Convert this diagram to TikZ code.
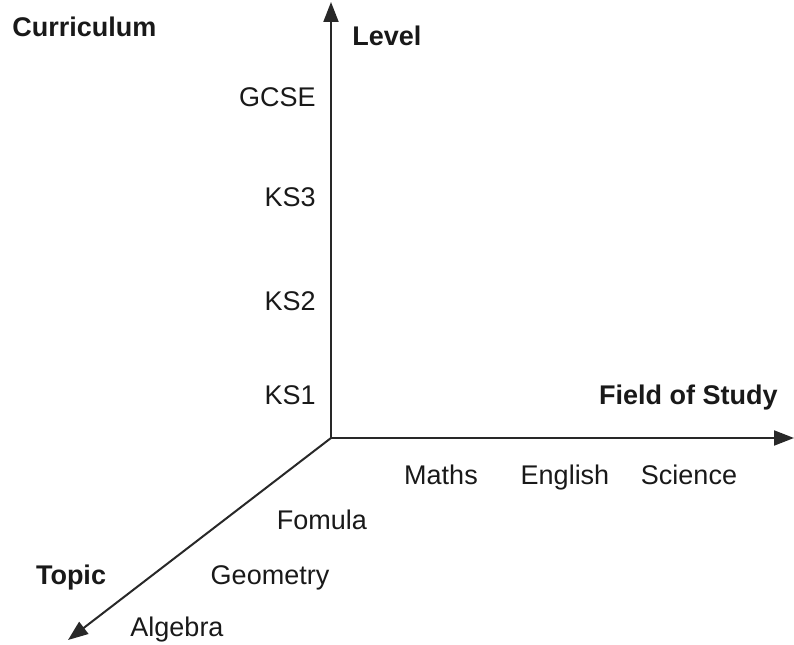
\documentclass[tikz,border=0pt]{standalone}
\usepackage{fontspec}
\setmainfont{Liberation Sans}
\usetikzlibrary{arrows.meta}
\definecolor{axisgrey}{RGB}{40,40,40}
\definecolor{txt}{RGB}{25,25,25}

\begin{document}
\begin{tikzpicture}[
    x=0.5pt, y=0.5pt,
    axis/.style={-{Triangle[length=10pt, width=7.5pt]}, line width=1pt, axisgrey},
    lbl/.style={font=\fontsize{13.5}{16}\selectfont, txt, inner sep=0pt, anchor=base},
    title/.style={lbl, font=\fontsize{13.5}{16}\selectfont\bfseries},
]
\useasboundingbox (0,0) rectangle (794,644);

% axes
\coordinate (origin) at (331,206);
\coordinate (levelend) at (331,642);
\coordinate (fieldend) at (794,206);
\coordinate (topicend) at (68,4);
\draw[axis] (origin) -- (levelend);
\draw[axis] (origin) -- (fieldend);
\draw[axis] (origin) -- (topicend);

% axis titles
\node[title, anchor=base west] (curriculum) at (12,607) {Curriculum};
\node[title, anchor=base west] (level) at (352,598) {Level};
\node[title, anchor=base east] (field) at (778,239) {Field of Study};
\node[title] (topic) at (71,60) {Topic};

% level values
\node[lbl, anchor=base east] (gcse) at (316,537) {GCSE};
\node[lbl, anchor=base east] (ks3) at (316,437) {KS3};
\node[lbl, anchor=base east] (ks2) at (316,333) {KS2};
\node[lbl, anchor=base east] (ks1) at (316,239) {KS1};

% field values
\node[lbl] (maths) at (441,160) {Maths};
\node[lbl] (english) at (565,160) {English};
\node[lbl] (science) at (689,160) {Science};

% topic values
\node[lbl] (fomula) at (322,114) {Fomula};
\node[lbl] (geometry) at (270,60) {Geometry};
\node[lbl] (algebra) at (177,8) {Algebra};
\end{tikzpicture}
\end{document}
